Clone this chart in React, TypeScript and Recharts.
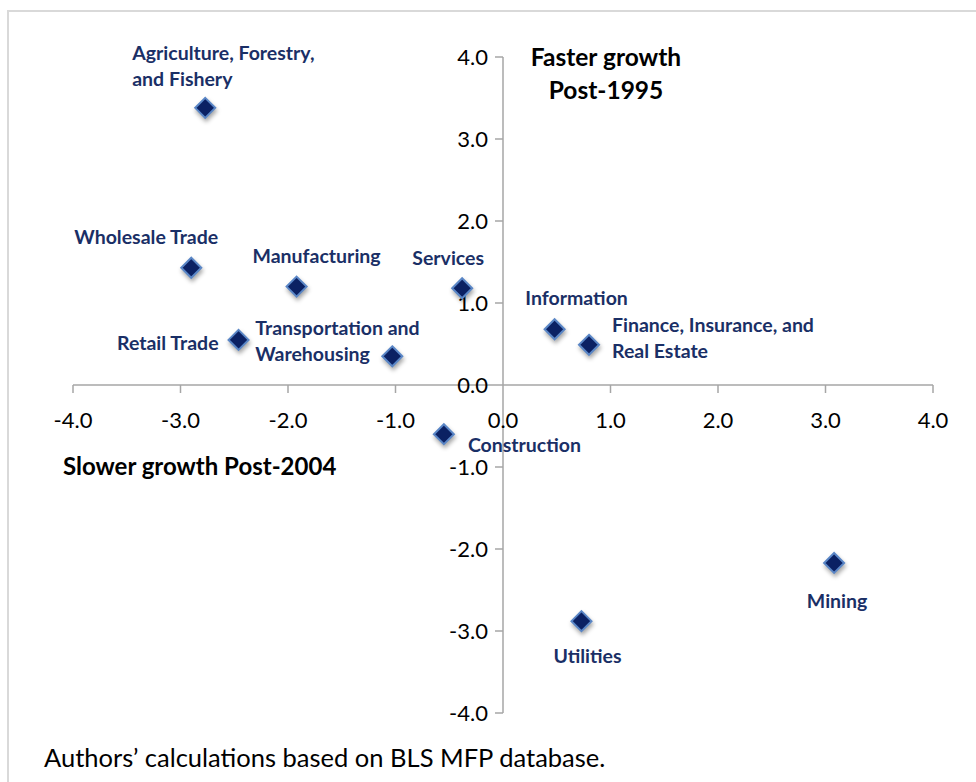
import { ScatterChart, Scatter, XAxis, YAxis, ReferenceLine, ReferenceDot } from 'recharts';

const SECTORS: string[] = [
    'Agriculture, Forestry, and Fishery',
    'Wholesale Trade',
    'Manufacturing',
    'Services',
    'Retail Trade',
    'Transportation and Warehousing',
    'Information',
    'Finance, Insurance, and Real Estate',
    'Construction',
    'Mining',
    'Utilities',
];
// change in growth post-2004 (x) and post-1995 (y)
const POST_2004: number[] = [-2.77, -2.9, -1.92, -0.38, -2.46, -1.03, 0.48, 0.8, -0.55, 3.08, 0.73];
const POST_1995: number[] = [3.38, 1.43, 1.2, 1.18, 0.55, 0.35, 0.68, 0.49, -0.6, -2.17, -2.88];
const TICKS: number[] = [-4, -3, -2, -1, 0, 1, 2, 3, 4];

type Point = { name: string, x: number, y: number }

const points: Point[] = SECTORS.map((name, i) => ({ name, x: POST_2004[i], y: POST_1995[i] }));

// label placement relative to the marker
type LabelLayout = { lines: string[], dx: number, dy: number, anchor: 'start' | 'middle' | 'end' }
const LABELS: Record<string, LabelLayout> = {
    'Agriculture, Forestry, and Fishery': { lines: ['Agriculture, Forestry,', 'and Fishery'], dx: -73, dy: -48, anchor: 'start' },
    'Wholesale Trade': { lines: ['Wholesale Trade'], dx: -45, dy: -24, anchor: 'middle' },
    'Manufacturing': { lines: ['Manufacturing'], dx: 20, dy: -24, anchor: 'middle' },
    'Services': { lines: ['Services'], dx: -14, dy: -23, anchor: 'middle' },
    'Retail Trade': { lines: ['Retail Trade'], dx: -20, dy: 10, anchor: 'end' },
    'Transportation and Warehousing': { lines: ['Transportation and', 'Warehousing'], dx: -137, dy: -21, anchor: 'start' },
    'Information': { lines: ['Information'], dx: 22, dy: -24, anchor: 'middle' },
    'Finance, Insurance, and Real Estate': { lines: ['Finance, Insurance, and', 'Real Estate'], dx: 23, dy: -13, anchor: 'start' },
    'Construction': { lines: ['Construction'], dx: 24, dy: 18, anchor: 'start' },
    'Mining': { lines: ['Mining'], dx: 3, dy: 45, anchor: 'middle' },
    'Utilities': { lines: ['Utilities'], dx: 6, dy: 42, anchor: 'middle' },
};

const AXIS = '#a6a6a6';
const FONT = 'Lato, "Open Sans", sans-serif';

function Diamond(props: any) {
    const { cx, cy, payload } = props;
    const r = 10;
    const lab = LABELS[payload.name];
    return (
        <g>
            <polygon
                points={`${cx},${cy - r} ${cx + r},${cy} ${cx},${cy + r} ${cx - r},${cy}`}
                fill="#0b2163"
                stroke="#5a86c6"
                strokeWidth={2}
                style={{ filter: 'drop-shadow(1px 3px 2px rgba(0,0,0,0.35))' }}
            />
            {lab && lab.lines.map((line, i) => (
                <text key={i} x={cx + lab.dx} y={cy + lab.dy + i * 26} textAnchor={lab.anchor}
                    fontFamily={FONT} fontWeight={700} fontSize={19.5} fill="#1a2f66">
                    {line}
                </text>
            ))}
        </g>
    );
}

function XTick(props: any) {
    const { cx, cy, value } = props;
    return (
        <g>
            {value !== 0 && <line x1={cx} y1={cy} x2={cx} y2={cy + 8} stroke={AXIS} strokeWidth={1.5} />}
            <text x={cx} y={cy + 43} textAnchor="middle" fontFamily={FONT} fontSize={22} fill="#000">
                {value.toFixed(1)}
            </text>
        </g>
    );
}

function YTick(props: any) {
    const { cx, cy, value } = props;
    return (
        <g>
            {value !== 0 && <line x1={cx - 8} y1={cy} x2={cx} y2={cy} stroke={AXIS} strokeWidth={1.5} />}
            <text x={cx - 15} y={cy + 8} textAnchor="end" fontFamily={FONT} fontSize={22} fill="#000">
                {value.toFixed(1)}
            </text>
        </g>
    );
}

export default function App() {
    return (
        <div style={{ position: 'relative', width: 976, height: 782, overflow: 'hidden', background: '#fff' }}>
            <style>{'html,body{margin:0;overflow:hidden}'}</style>
            <div style={{ position: 'absolute', left: 7, top: 10, width: 1000, height: 800, border: '2px solid #d9d9d9' }} />
            <ScatterChart width={976} height={782} margin={{ top: 57, right: 43, bottom: 69, left: 73 }}>
                <XAxis type="number" dataKey="x" domain={[-4, 4]} ticks={TICKS} hide />
                <YAxis type="number" dataKey="y" domain={[-4, 4]} ticks={TICKS} hide />
                <ReferenceLine x={0} stroke={AXIS} strokeWidth={1.5} />
                <ReferenceLine y={0} stroke={AXIS} strokeWidth={1.5} />
                {TICKS.map(t => (
                    <ReferenceDot key={`x${t}`} x={t} y={0} r={0} shape={(p: any) => <XTick {...p} value={t} />} />
                ))}
                {TICKS.map(t => (
                    <ReferenceDot key={`y${t}`} x={0} y={t} r={0} shape={(p: any) => <YTick {...p} value={t} />} />
                ))}
                <Scatter data={points} shape={Diamond} isAnimationActive={false} />
            </ScatterChart>
            <div style={{ position: 'absolute', left: 506, top: 40, width: 200, textAlign: 'center', fontFamily: FONT, fontWeight: 700, fontSize: 24.5, lineHeight: '33px', color: '#000', whiteSpace: 'nowrap' }}>
                Faster growth<br />Post-1995
            </div>
            <div style={{ position: 'absolute', left: 63, top: 453, fontFamily: FONT, fontWeight: 700, fontSize: 24, lineHeight: '26px', color: '#000', whiteSpace: 'nowrap' }}>
                Slower growth Post-2004
            </div>
            <div style={{ position: 'absolute', left: 44, top: 743, fontFamily: FONT, fontSize: 25.5, lineHeight: '28px', color: '#000', whiteSpace: 'nowrap' }}>
                Authors’ calculations based on BLS MFP database.
            </div>
        </div>
    );
}
